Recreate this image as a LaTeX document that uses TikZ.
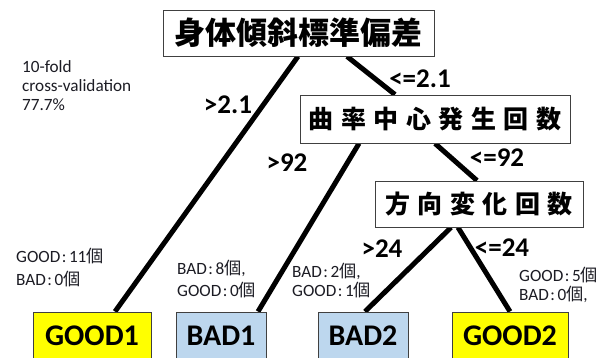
\documentclass[tikz,border=0pt]{standalone}
\usepackage{fontspec}
\setmainfont{Carlito}
\newfontfamily\cjk{Noto Sans CJK JP}
\usetikzlibrary{backgrounds}
\definecolor{goodyel}{HTML}{FFFF00}
\definecolor{badblue}{HTML}{BDD7EE}
\definecolor{smalltxt}{HTML}{1C1C24}
\definecolor{boxline}{HTML}{404040}
\newcommand\kosu{{\cjk 個}}
\newcommand\colj{\kern1.5pt:\kern2.5pt}
\newcommand\gp{\kern7.5pt}
\begin{document}
\begin{tikzpicture}[x=1pt,y=-1pt,
  qbox/.style={draw=boxline,line width=0.9pt,fill=white,inner sep=0pt,font=\cjk\bfseries},
  leafbox/.style={draw=boxline,line width=0.9pt,inner sep=0pt,minimum height=48pt,font=\fontsize{30}{34}\selectfont\bfseries},
  branch/.style={line width=5pt,black},
  cond/.style={inner sep=0pt,font=\fontsize{27}{30}\selectfont\bfseries},
  cnt/.style={inner sep=0pt,anchor=base west,text=smalltxt,font=\fontsize{17.2}{19}\selectfont},
]
\useasboundingbox (0,0) rectangle (608,358);
\clip (0,0) rectangle (608,358);

\node[qbox,minimum width=271pt,minimum height=46pt,font=\cjk\bfseries\fontsize{31}{34}\selectfont] (top) at (298.5,33) {身体傾斜標準偏差};
\node[qbox,minimum width=270pt,minimum height=48pt,font=\cjk\bfseries\fontsize{25}{30}\selectfont] (mid) at (435,119) {曲\gp 率\gp 中\gp 心\gp 発\gp 生\gp 回\gp 数};
\node[qbox,minimum width=208pt,minimum height=46pt,font=\cjk\bfseries\fontsize{25}{30}\selectfont] (third) at (479,204) {方\gp 向\gp 変\gp 化\gp 回\gp 数};

\node[leafbox,fill=goodyel,minimum width=118pt] (good1) at (92,336) {GOOD1};
\node[leafbox,fill=badblue,minimum width=90pt] (bad1) at (221,336) {BAD1};
\node[leafbox,fill=badblue,minimum width=90pt] (bad2) at (363,336) {BAD2};
\node[leafbox,fill=goodyel,minimum width=116pt] (good2) at (510,336) {GOOD2};

\begin{scope}[on background layer]
  \fill[white] (0,0) rectangle (608,358);
  \draw[branch] ([xshift=-0.5pt]top.south) -- ([xshift=23pt]good1.north);
  \draw[branch] ([xshift=48.5pt]top.south) -- ([xshift=-40pt]mid.north);
  \draw[branch] ([xshift=-76pt]mid.south) -- ([xshift=37pt]bad1.north);
  \draw[branch] (mid.south) -- ([xshift=-2pt]third.north);
  \draw[branch] ([xshift=-28pt]third.south) -- ([xshift=2pt]bad2.north);
  \draw[branch] ([xshift=-21pt]third.south) -- (good2.north);
\end{scope}

\node[cond] (c1) at (228,105) {>2.1};
\node[cond] (c2) at (420,79) {<=2.1};
\node[cond] (c3) at (287,163) {>92};
\node[cond] (c4) at (497,158) {<=92};
\node[cond] (c5) at (382,249) {>24};
\node[cond] (c6) at (502,248) {<=24};

\node[cnt] (cv1) at (22,73) {10-fold};
\node[cnt] (cv2) at (22,92) {cross-validation};
\node[cnt] (cv3) at (22,111) {77.7\%};

\node[cnt] (n1a) at (16,263) {GOOD\colj 11\kosu};
\node[cnt] (n1b) at (16,285) {BAD\colj 0\kosu};
\node[cnt] (n2a) at (177,275) {BAD\colj 8\kosu,};
\node[cnt] (n2b) at (177,296) {GOOD\colj 0\kosu};
\node[cnt] (n3a) at (292,277) {BAD\colj 2\kosu,};
\node[cnt] (n3b) at (292,297) {GOOD\colj 1\kosu};
\node[cnt] (n4a) at (519,281) {GOOD\colj 5\kosu};
\node[cnt] (n4b) at (519,301) {BAD\colj 0\kosu,};
\end{tikzpicture}
\end{document}
